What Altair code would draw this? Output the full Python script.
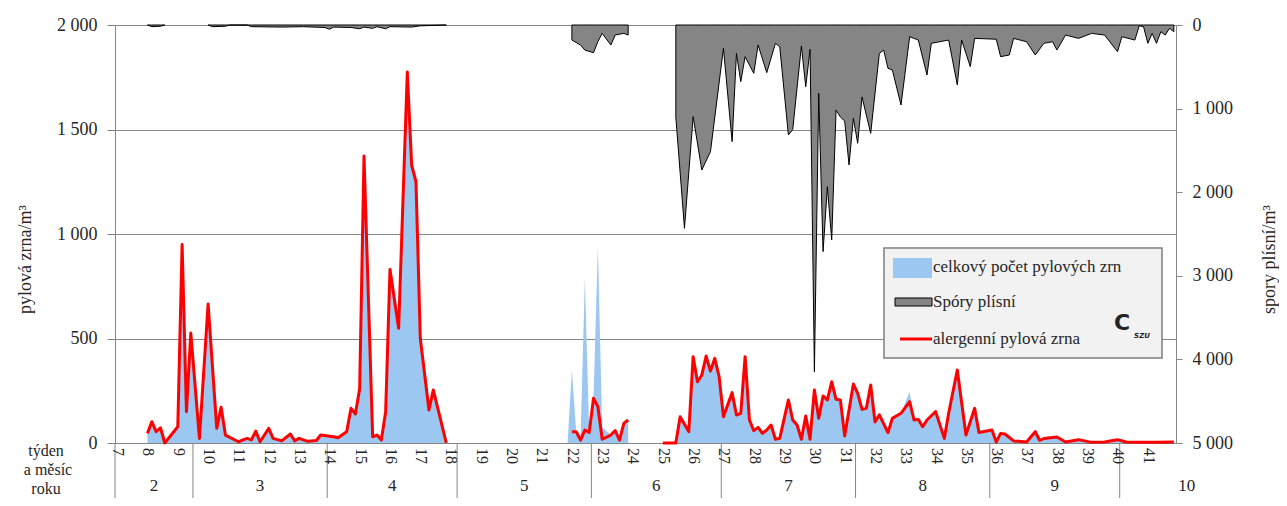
import altair as alt
import pandas as pd

FONT = "Liberation Serif"
TXT = "#262626"
GRID = "#868686"
BLUE = "#9cc7f1"
RED = "#ff0000"
SPORE_FILL = "#858585"

# ---- data (x = day of year) ----
# allergenic pollen grains / m3 (red line)
ALLERGEN_DAYS = [
    49, 50, 51, 52, 53, 56, 57, 58, 59, 61, 63, 65, 66, 67, 70, 72, 73, 74, 75, 77,
    78, 80, 82, 83, 84, 86, 88, 89, 92, 93, 95, 96, 97, 98, 99, 101, 102, 103, 104, 105,
    107, 109, 110, 111, 112, 114, 115, 118,
    147, 148, 149, 150, 151, 152, 153, 154, 156, 157, 158, 159, 160,
    168, 171, 172, 174, 175, 176, 177, 178, 179, 180, 181, 182, 184, 185, 186, 187, 188, 189, 190, 191,
    192, 193, 194, 195, 197, 198, 199, 200, 201, 202, 203, 204, 205, 206, 207, 208, 209, 210, 212, 213,
    214, 215, 216, 217, 218, 220, 221, 223, 225, 226, 227, 228, 229, 231, 233, 234, 236, 238, 240, 241,
    244, 245, 246, 247, 249, 252, 254, 255, 256, 259, 261, 264, 267, 270, 273, 275, 278, 282, 286,
]
ALLERGEN = [
    46, 102, 54, 73, 0, 78, 950, 150, 526, 22, 665, 70, 171, 38, 6, 22, 15, 57, 6, 70,
    22, 10, 43, 10, 22, 8, 12, 38, 30, 25, 54, 166, 139, 260, 1373, 30, 38, 14, 150, 830,
    549, 1775, 1330, 1250, 500, 158, 254, 0,
    54, 54, 14, 62, 50, 214, 174, 18, 38, 59, 14, 94, 110,
    0, 0, 126, 54, 413, 293, 325, 416, 344, 405, 317, 126, 241, 134, 142, 413, 110, 59, 75, 46,
    62, 86, 18, 22, 206, 110, 86, 18, 129, 18, 254, 118, 225, 206, 293, 209, 206, 34, 282, 237,
    161, 166, 278, 100, 135, 50, 118, 142, 198, 110, 113, 78, 110, 150, 22, 142, 349, 38, 166, 50,
    62, 5, 46, 43, 10, 5, 54, 13, 21, 29, 5, 16, 3, 5, 16, 5, 3, 3, 5,
]
# total pollen (blue area): equal to the red line except on these days
TOTAL_DIFFERENT = {146: 0, 147: 349, 150: 788, 153: 939, 154: 75, 225: 245}

# mould spores / m3 (right axis, hanging from the top)
SPORE_DAYS = [
    49, 50, 52, 53, 63, 64, 67, 68, 72, 73, 80, 85, 90, 91, 92, 96, 98, 99, 101, 102,
    104, 105, 110, 112, 118,
    147, 149, 150, 152, 153, 154, 156, 157, 159, 160,
    171, 173, 175, 177, 179, 182, 184, 185, 186, 187, 189, 190, 192, 194, 195, 197, 198, 200, 201, 202,
    203, 204, 205, 206, 207, 208, 209, 210, 211, 212, 213, 214, 216, 218, 219, 220, 221, 223, 225, 227,
    229, 230, 234, 236, 237, 239, 240, 245, 246, 248, 249, 252, 254, 256, 258, 259, 261, 264, 267, 270,
    273, 274, 277, 278, 279, 280, 281, 282, 283, 284, 285, 286,
]
SPORES = [
    0, 20, 15, 0, 0, 20, 15, 0, 0, 20, 25, 20, 30, 50, 25, 30, 45, 25, 40, 20,
    45, 20, 25, 10, 0,
    180, 240, 300, 331, 199, 100, 239, 120, 100, 120,
    1100, 2432, 1096, 1734, 1515, 279, 1395, 339, 678, 379, 578, 239, 570, 219, 259, 1316, 1250, 250, 738, 290,
    4150, 817, 2711, 1934, 2571, 1017, 1100, 1150, 1674, 1116, 1415, 860, 1296, 340, 300, 518, 538, 957, 140, 180,
    598, 219, 180, 718, 180, 498, 160, 170, 379, 359, 160, 200, 359, 219, 200, 299, 120, 160, 100, 120,
    319, 140, 180, 10, 20, 219, 100, 219, 80, 120, 40, 80,
]

WEEKS = list(range(7, 42))
WEEK_POS = [42.2 + 7 * (w - 7) for w in WEEKS]
MONTHS = ["2", "3", "4", "5", "6", "7", "8", "9", "10"]
MONTH_CENTER = [50.5, 75, 105.5, 136, 166.5, 197, 228, 258.5, 289]
MONTH_BOUNDS = [41.5, 59.5, 90.5, 120.5, 151.5, 181.5, 212.5, 243.5, 273.5]


def with_segments(days, values):
    seg, prev, segs = 0, None, []
    for d in days:
        if prev is not None and d - prev > 7:
            seg += 1
        segs.append(seg)
        prev = d
    return pd.DataFrame({"day": days, "v": values, "seg": segs})


allergen_df = with_segments(ALLERGEN_DAYS, ALLERGEN)
total_map = dict(zip(ALLERGEN_DAYS, ALLERGEN))
total_map.update(TOTAL_DIFFERENT)
tdays = sorted(total_map)
total_df = with_segments(tdays, [total_map[d] for d in tdays])
spore_df = with_segments(SPORE_DAYS, SPORES)

XS = alt.Scale(domain=[41.5, 286.5], nice=False, zero=False)
X = alt.X("day:Q", scale=XS, axis=None)
LEFT_SCALE = alt.Scale(domain=[0, 2000], nice=False)

left_axis = alt.Axis(
    orient="left", values=[0, 500, 1000, 1500, 2000],
    labelExpr="replace(format(datum.value, ','), ',', ' ')",
    grid=True, gridColor=GRID, gridWidth=1, tickColor=GRID, tickSize=8,
    domainColor=GRID, labelPadding=10, labelFont=FONT, labelFontSize=18, labelColor=TXT,
    title="pylová zrna/m³", titleFont=FONT, titleFontSize=18, titleFontWeight="normal",
    titleColor=TXT, titleX=-90, titleY=234, titleAngle=270, titleAlign="center",
    titleBaseline="middle",
)
right_axis = alt.Axis(
    orient="right", values=[0, 1000, 2000, 3000, 4000, 5000],
    labelExpr="replace(format(datum.value, ','), ',', ' ')",
    grid=False, tickColor=GRID, tickSize=6, domainColor=GRID, labelPadding=10,
    labelFont=FONT, labelFontSize=18, labelColor=TXT,
    title="spory plísní/m³", titleFont=FONT, titleFontSize=18, titleFontWeight="normal",
    titleColor=TXT, titleX=93, titleY=234, titleAngle=270, titleAlign="center",
    titleBaseline="middle",
)

blue = alt.Chart(total_df).mark_area(color=BLUE, opacity=1).encode(
    x=X, y=alt.Y("v:Q", scale=LEFT_SCALE, axis=left_axis, stack=None), detail="seg:N"
)
spores = alt.Chart(spore_df).mark_area(
    fill=SPORE_FILL, stroke="black", strokeWidth=1, fillOpacity=1
).encode(
    x=X,
    y=alt.Y("v:Q", scale=alt.Scale(domain=[0, 5000], reverse=True, nice=False),
            axis=right_axis, stack=None),
    detail="seg:N",
)
red = alt.Chart(allergen_df).mark_line(color=RED, strokeWidth=3, strokeJoin="round").encode(
    x=X, y=alt.Y("v:Q", scale=LEFT_SCALE, axis=None, stack=None), detail="seg:N"
)

month_rules = alt.Chart(pd.DataFrame({"pos": MONTH_BOUNDS})).mark_rule(
    color=GRID, strokeWidth=1
).encode(x=alt.X("pos:Q", scale=XS, axis=None), y=alt.value(418), y2=alt.value(495))

week_text = alt.Chart(pd.DataFrame({"pos": WEEK_POS, "label": [str(w) for w in WEEKS]})).mark_text(
    angle=90, align="left", baseline="middle", font=FONT, fontSize=16, color=TXT
).encode(x=alt.X("pos:Q", scale=XS, axis=None), y=alt.value(423), text="label:N")

month_text = alt.Chart(pd.DataFrame({"pos": MONTH_CENTER, "label": MONTHS})).mark_text(
    align="center", baseline="middle", font=FONT, fontSize=17, color=TXT
).encode(x=alt.X("pos:Q", scale=XS, axis=None), y=alt.value(461), text="label:N")

ONE = pd.DataFrame({"a": [0]})


def label(text, x, y, size=18, align="center", **kw):
    return alt.Chart(ONE).mark_text(
        text=text, align=align, baseline="middle", font=kw.pop("font", FONT),
        fontSize=size, color=kw.pop("color", TXT), **kw
    ).encode(x=alt.value(x), y=alt.value(y))


def box(x, x2, y, y2, **kw):
    return alt.Chart(ONE).mark_rect(**kw).encode(
        x=alt.value(x), x2=alt.value(x2), y=alt.value(y), y2=alt.value(y2)
    )


side_labels = [
    label("týden", -69, 426, size=16),
    label("a měsíc", -67, 445, size=16),
    label("roku", -69, 464, size=16),
]

legend = [
    box(769, 1047, 223, 333, fill="#f2f2f2", stroke="#7f7f7f", strokeWidth=1.5),
    box(778, 817, 233, 253, fill=BLUE),
    label("celkový počet pylových zrn", 818, 242, size=17, align="left"),
    box(780, 817, 273, 281, fill=SPORE_FILL, stroke="black", strokeWidth=1),
    label("Spóry plísní", 818, 277, size=17, align="left"),
    alt.Chart(ONE).mark_rule(color=RED, strokeWidth=3).encode(
        x=alt.value(785), x2=alt.value(817), y=alt.value(314)
    ),
    label("alergenní pylová zrna", 818, 314, size=17, align="left"),
    label("C", 1007, 298, size=22, font="DejaVu Sans", fontWeight="bold", color="#222"),
    label("SZU", 1027, 311, size=7, font="DejaVu Sans", fontWeight="bold",
          fontStyle="italic", color="#222"),
]

chart = alt.layer(
    blue, spores, red, month_rules, week_text, month_text, *side_labels, *legend
).resolve_scale(y="independent").properties(
    width=1061, height=418,
    autosize=alt.AutoSizeParams(type="none"),
    padding={"left": 107, "top": 17, "right": 103, "bottom": 55},
).configure_view(stroke="transparent")

chart.save("out.html", embed_options={"renderer": "svg", "actions": False})
